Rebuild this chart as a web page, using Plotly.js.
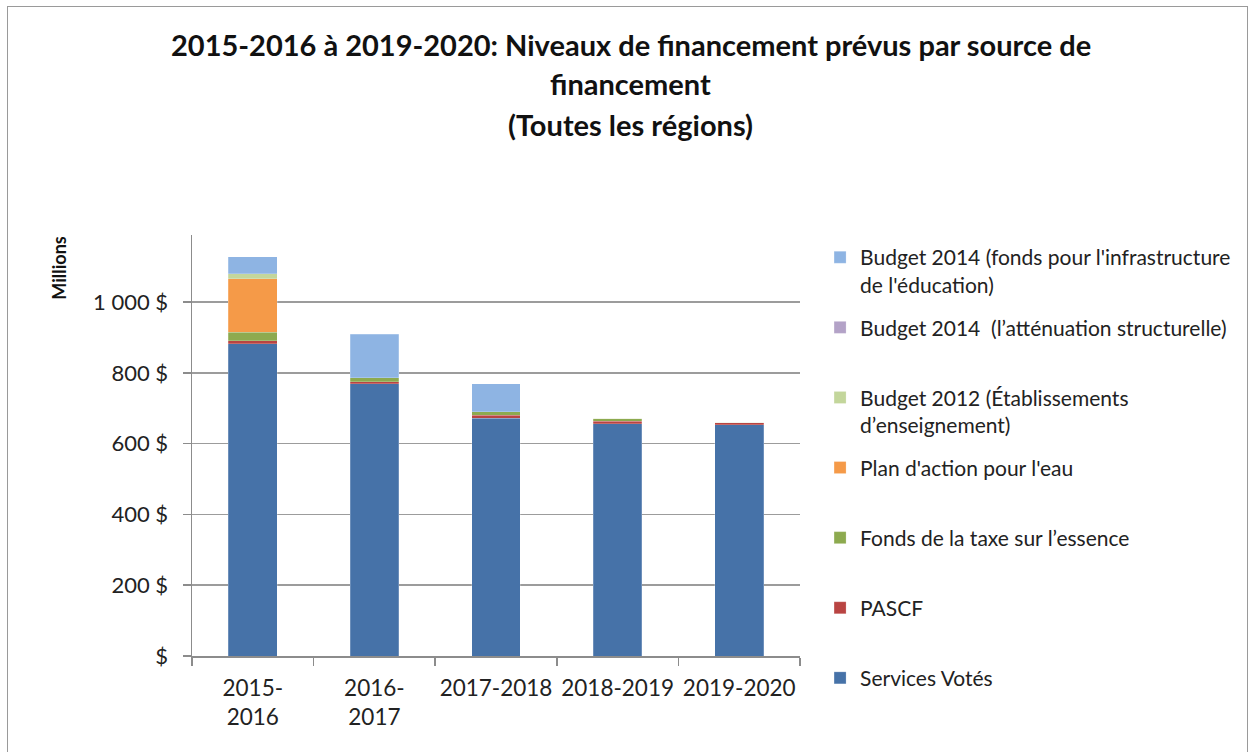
<!DOCTYPE html>
<html>
<head>
<meta charset="utf-8">
<script src="https://cdn.plot.ly/plotly-3.0.1.min.js"></script>
<style>
  html, body { margin: 0; padding: 0; background: #fff; }
  #wrap { position: relative; width: 1253px; height: 752px; overflow: hidden; }
  #chart { position: absolute; left: 0; top: 0; width: 1253px; height: 752px; }
  #frame { position: absolute; left: 7px; top: 6px; width: 1239px; height: 800px;
           border: 1.5px solid #9a9a9a; pointer-events: none; }
</style>
</head>
<body>
<div id="wrap">
  <div id="chart"></div>
  <div id="frame"></div>
</div>
<script>
// ---- data (millions $) ----
const categories = ["2015-<br>2016", "2016-<br>2017", "2017-2018", "2018-2019", "2019-2020"];
const servicesVotes = [883, 769, 672, 657, 653];
const pascf = [8, 6, 9, 6, 6];
const taxeEssence = [24, 11, 10, 9, 2];
const planEau = [152, 0, 0, 0, 0];
const budget2012 = [14, 0, 0, 0, 0];
const budget2014Attenuation = [0, 0, 0, 0, 0];
const budget2014Infra = [48, 123, 78, 0, 0];

const yTickVals = [0, 200, 400, 600, 800, 1000];
const yTickText = ["$", "200 $", "400 $", "600 $", "800 $", "1 000 $"];

const seriesNames = [
  "Services Votés",
  "PASCF",
  "Fonds de la taxe sur l’essence",
  "Plan d'action pour l'eau",
  "Budget 2012 (Établissements<br>d’enseignement)",
  "Budget 2014  (l’atténuation structurelle)",
  "Budget 2014 (fonds pour l'infrastructure<br>de l'éducation)"
];
const seriesValues = [servicesVotes, pascf, taxeEssence, planEau, budget2012, budget2014Attenuation, budget2014Infra];
const seriesColors = ["#4672A8", "#B94442", "#8DAA4F", "#F59A48", "#C3D69B", "#B3A2C7", "#8EB4E3"];

const FONT = "Lato, 'Open Sans', sans-serif";

const traces = seriesNames.map((name, i) => ({
  type: "bar",
  x: categories,
  y: seriesValues[i],
  name: name.indexOf("<br>") >= 0 ? name : name + "<br> ",
  legendgroup: "g" + i,
  legendrank: 1000 - i * 10,
  marker: { color: seriesColors[i], line: { color: "rgba(255,255,255,0.35)", width: 0.6 } },
  hoverinfo: "skip"
}));

const layout = {
  width: 1253,
  height: 752,
  margin: { l: 192, r: 453, t: 235, b: 96, pad: 0 },
  paper_bgcolor: "#ffffff",
  plot_bgcolor: "#ffffff",
  barmode: "stack",
  bargap: 0.6,
  font: { family: FONT, color: "#222", size: 19 },
  showlegend: true,
  legend: {
    x: 1.033, y: 0.995, xanchor: "left", yanchor: "top",
    traceorder: "grouped",
    tracegroupgap: 12.5,
    valign: "top",
    maxheight: 700,
    font: { family: FONT, size: 21, color: "#222" },
    bgcolor: "rgba(0,0,0,0)"
  },
  xaxis: {
    type: "category",
    tickson: "boundaries",
    tickangle: 0,
    ticks: "outside",
    ticklen: 8,
    tickcolor: "#8c8c8c",
    tickwidth: 1.5,
    ticklabelstandoff: 11,
    showline: true,
    linecolor: "#8c8c8c",
    linewidth: 1.5,
    showgrid: false,
    tickfont: { family: FONT, size: 22.5, color: "#222" },
    fixedrange: true
  },
  yaxis: {
    range: [0, 1190],
    tickvals: yTickVals,
    ticktext: yTickText,
    ticks: "outside",
    ticklen: 8,
    tickcolor: "#8c8c8c",
    tickwidth: 1.5,
    ticklabelstandoff: 10,
    showline: true,
    linecolor: "#8c8c8c",
    linewidth: 1.5,
    showgrid: true,
    gridcolor: "#9c9c9c",
    gridwidth: 1.5,
    zeroline: false,
    tickfont: { family: FONT, size: 22, color: "#222" },
    fixedrange: true
  },
  annotations: [
    { text: "<b>2015-2016 à 2019-2020: Niveaux de financement prévus par source de</b>",
      xref: "paper", yref: "paper", x: 0.722, y: 1.452, xanchor: "center", yanchor: "middle",
      showarrow: false, font: { family: FONT, size: 29, color: "#111" } },
    { text: "<b>financement</b>",
      xref: "paper", yref: "paper", x: 0.722, y: 1.360, xanchor: "center", yanchor: "middle",
      showarrow: false, font: { family: FONT, size: 29, color: "#111" } },
    { text: "<b>(Toutes les régions)</b>",
      xref: "paper", yref: "paper", x: 0.722, y: 1.263, xanchor: "center", yanchor: "middle",
      showarrow: false, font: { family: FONT, size: 29, color: "#111" } },
    { text: "<b>Millions</b>",
      xref: "paper", yref: "paper", x: -0.219, y: 0.922, xanchor: "center", yanchor: "middle",
      textangle: -90, showarrow: false, font: { family: FONT, size: 18, color: "#111" } }
  ]
};

Plotly.newPlot("chart", traces, layout, { staticPlot: true, displayModeBar: false });
</script>
</body>
</html>
